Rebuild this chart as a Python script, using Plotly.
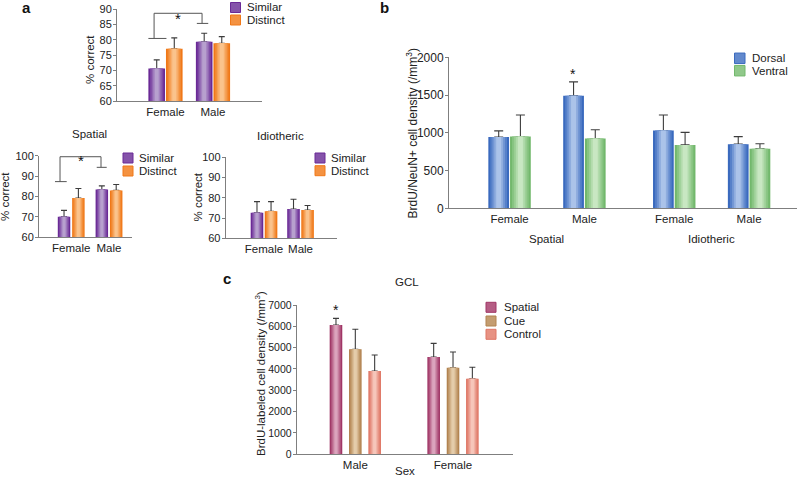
import plotly.graph_objects as go

W, H = 798, 479
FONT = "Liberation Sans, Arial, Helvetica, sans-serif"
TXT = "#222222"
AXC = "#7f7f7f"
ERRC = "#3c3c3c"

# ---------------- data ----------------
sex_a = ["Female", "Male"]
groups_a = ["Similar", "Distinct"]

a_all_similar = [70.6, 79.3]
a_all_similar_top = [73.4, 82.1]
a_all_distinct = [77.0, 78.8]
a_all_distinct_top = [80.6, 81.0]

a_spatial_similar = [70.1, 83.4]
a_spatial_similar_top = [73.2, 85.2]
a_spatial_distinct = [79.3, 83.0]
a_spatial_distinct_top = [83.9, 85.9]

a_idio_similar = [72.6, 74.5]
a_idio_similar_top = [78.1, 79.3]
a_idio_distinct = [73.3, 74.0]
a_idio_distinct_top = [78.1, 76.2]

b_tasks = ["Spatial", "Idiotheric"]
b_sex = ["Female", "Male", "Female", "Male"]
b_regions = ["Dorsal", "Ventral"]
b_dorsal = [945, 1490, 1030, 850]
b_dorsal_top = [1025, 1675, 1235, 950]
b_ventral = [950, 925, 840, 790]
b_ventral_top = [1235, 1040, 1005, 855]

c_sex = ["Male", "Female"]
c_groups = ["Spatial", "Cue", "Control"]
c_spatial = [6060, 4560]
c_spatial_top = [6375, 5200]
c_cue = [4920, 4060]
c_cue_top = [5860, 4795]
c_control = [3905, 3545]
c_control_top = [4655, 4080]

# ---------------- styles ----------------
# (edge colour, centre highlight colour)
PAL = {
    "Similar": ("#6A2A96", "#B7A0CE"),
    "Distinct": ("#F07818", "#FAC38C"),
    "Dorsal": ("#3A6ABE", "#ABC3E9"),
    "Ventral": ("#72B86C", "#C8E7C2"),
    "Spatial": ("#A03766", "#DBA4BD"),
    "Cue": ("#B28350", "#E4CCAA"),
    "Control": ("#DF7665", "#F6C6BA"),
}


def blend(c1, c2, t):
    a = [int(c1[i:i + 2], 16) for i in (1, 3, 5)]
    b = [int(c2[i:i + 2], 16) for i in (1, 3, 5)]
    return "#" + "".join(f"{round(x + (y - x) * t):02x}" for x, y in zip(a, b))


def fx(px):
    return px / W


def fy(py):
    return 1 - py / H


fig = go.Figure()

# panel geometry (pixels)
panels = [
    dict(id="", xdom=(117, 262), ydom=(9, 101), xr=(-1.021, 2.032), yr=(60, 90), dtick=5, yfs=11),
    dict(id="2", xdom=(39, 132), ydom=(155.7, 237.3), xr=(-0.852, 1.608), yr=(60, 100), dtick=10, yfs=11),
    dict(id="3", xdom=(225.7, 336.7), ydom=(157.3, 238.3), xr=(-1.049, 1.99), yr=(60, 100), dtick=10, yfs=11),
    dict(id="4", xdom=(449, 797), ydom=(57.3, 208.3), xr=(-0.809, 3.84), yr=(0, 2000), dtick=500, yfs=12),
    dict(id="5", xdom=(296.7, 513.3), ydom=(305, 454.3), xr=(-0.6, 1.617), yr=(0, 7000), dtick=1000, yfs=10.5),
]

pos_a = list(range(len(sex_a)))
pos_b = [i + 0.2 * (i >= 2) for i in range(len(b_sex))]
pos_c = list(range(len(c_sex)))

LAYERS = [1.0, 0.8, 0.6, 0.42, 0.24]


def add_bars(pid, pos, series, tops, names, width, gap, cap):
    k = len(series)
    total = k * width + (k - 1) * gap
    for j, (vals, tp, name) in enumerate(zip(series, tops, names)):
        off = -total / 2 + j * (width + gap)
        edge, light = PAL[name]
        for li, frac in enumerate(LAYERS):
            w = width * frac
            o = off + (width - w) / 2
            col = blend(edge, light, li / (len(LAYERS) - 1))
            kw = {}
            if li == 0:
                kw["error_y"] = dict(type="data", symmetric=False,
                                     array=[t - v for t, v in zip(tp, vals)],
                                     arrayminus=[0] * len(vals),
                                     color=ERRC, thickness=1.1, width=cap)
            fig.add_trace(go.Bar(
                x=pos, y=vals, width=w, offset=o, name=name,
                marker=dict(color=col, line=dict(width=0)),
                xaxis="x" + pid, yaxis="y" + pid, showlegend=False,
                hoverinfo="skip" if li else "x+y+name", **kw))


add_bars("", pos_a, [a_all_similar, a_all_distinct], [a_all_similar_top, a_all_distinct_top],
         groups_a, 0.35, 0.02, 3)
add_bars("2", pos_a, [a_spatial_similar, a_spatial_distinct],
         [a_spatial_similar_top, a_spatial_distinct_top], groups_a, 0.33, 0.05, 3)
add_bars("3", pos_a, [a_idio_similar, a_idio_distinct],
         [a_idio_similar_top, a_idio_distinct_top], groups_a, 0.345, 0.04, 3)
add_bars("4", pos_b, [b_dorsal, b_ventral], [b_dorsal_top, b_ventral_top],
         b_regions, 0.277, 0.013, 4.5)
add_bars("5", pos_c, [c_spatial, c_cue, c_control], [c_spatial_top, c_cue_top, c_control_top],
         c_groups, 0.129, 0.069, 3)

layout = dict(
    width=W, height=H, margin=dict(l=0, r=0, t=0, b=0, autoexpand=False),
    paper_bgcolor="white", plot_bgcolor="white",
    barmode="overlay", showlegend=False,
    font=dict(family=FONT, size=11.5, color=TXT),
)

ticktexts = [sex_a, sex_a, sex_a, b_sex, c_sex]
tickposs = [pos_a, pos_a, pos_a, pos_b, pos_c]
for p, tt, tv in zip(panels, ticktexts, tickposs):
    xn = "xaxis" + p["id"]
    yn = "yaxis" + p["id"]
    layout[xn] = dict(
        domain=[fx(p["xdom"][0]), fx(p["xdom"][1])], range=list(p["xr"]),
        anchor="y" + p["id"], showline=True, linecolor=AXC, linewidth=1,
        ticks="", tickvals=tv, ticktext=tt, showgrid=False, zeroline=False,
        automargin=False, fixedrange=True, tickfont=dict(size=11.5, color=TXT))
    layout[yn] = dict(
        domain=[fy(p["ydom"][1]), fy(p["ydom"][0])], range=list(p["yr"]),
        anchor="x" + p["id"], showline=True, linecolor=AXC, linewidth=1,
        ticks="outside", ticklen=3, tickcolor=AXC, dtick=p["dtick"],
        showgrid=False, zeroline=False, automargin=False, fixedrange=True,
        ticklabelstandoff=-1, tickfont=dict(size=p["yfs"], color=TXT))

fig.update_layout(**layout)

# ---------------- brackets & stars ----------------
def bracket(pid, lx, rx, ltick, rtick, yl, yr, yt):
    path = (f"M {ltick[0]},{yl} H {ltick[1]} M {lx},{yl} V {yt} H {rx} V {yr} "
            f"M {rtick[0]},{yr} H {rtick[1]}")
    fig.add_shape(type="path", path=path, xref="x" + pid, yref="y" + pid,
                  line=dict(color="#555555", width=1))
    return (lx + rx) / 2


mid_a = bracket("", -0.24, 0.77, (-0.36, 0.02), (0.66, 0.90), 80.4, 85.3, 88.6)
mid_s = bracket("2", -0.296, 0.788, (-0.429, -0.119), (0.675, 0.939), 87.3, 94.3, 99.5)

anns = []


def star(pid, x, y, size=15, paper_y=False):
    anns.append(dict(text="*", x=x, y=fy(y) if paper_y else y, xref="x" + pid,
                     yref="paper" if paper_y else "y" + pid, showarrow=False,
                     font=dict(size=size, color="#111"), yshift=-3))


star("", mid_a, 4.5, paper_y=True)
star("2", mid_s, 146.7, paper_y=True)
star("4", pos_b[1] - 0.146, 1818, 14)
star("5", pos_c[0] - 0.198, 6905, 14)


def text(t, px, py, size=11.5, bold=False, angle=0, xanchor="center"):
    anns.append(dict(text=f"<b>{t}</b>" if bold else t, x=fx(px), y=fy(py),
                     xref="paper", yref="paper", showarrow=False, textangle=angle,
                     xanchor=xanchor, yanchor="middle",
                     font=dict(size=size, color="#111" if bold else TXT)))


# panel letters
text("a", 26, 8, 15, bold=True)
text("b", 384, 8, 15, bold=True)
text("c", 227, 278, 15, bold=True)

# panel titles
text("Spatial", 89, 134)
text("Idiotheric", 280, 136)
text("GCL", 407, 282)

# y-axis titles
text("% correct", 90, 60, angle=-90)
text("% correct", 5, 197, angle=-90)
text("% correct", 197.5, 197, angle=-90)
text("BrdU/NeuN+ cell density (/mm<sup>3</sup>)", 411.5, 134, angle=-90, size=12)
text("BrdU-labeled cell density (/mm<sup>3</sup>)", 260, 374, angle=-90)

# group labels under panel b and c
for task, i in zip(b_tasks, [0, 2]):
    mid_px = 449 + (((pos_b[i] + pos_b[i + 1]) / 2) - (-0.809)) / (3.84 + 0.809) * (797 - 449)
    text(task, mid_px, 239)
text("Sex", 405, 471)

# legends
def legend(names, sw_x, text_x, rows, size=10):
    for name, py in zip(names, rows):
        edge, light = PAL[name]
        fig.add_shape(type="rect", xref="paper", yref="paper",
                      x0=fx(sw_x), x1=fx(sw_x + size), y0=fy(py + size / 2), y1=fy(py - size / 2),
                      fillcolor=blend(edge, light, 0.35), line=dict(color=edge, width=1))
        text(name, text_x, py, xanchor="left")


legend(groups_a, 230.5, 245, [7.5, 20])
legend(groups_a, 123, 137, [158, 171])
legend(groups_a, 315, 329, [158, 170.7])
legend(b_regions, 734.5, 750, [58.3, 70.7], size=10.5)
legend(c_groups, 486, 502, [307.3, 321, 334.3])

fig.update_layout(annotations=anns)
fig.write_html(
    "out.html",
    config={"displayModeBar": False},
    post_script="document.body.style.margin='0px';document.body.style.padding='0px';"
                "document.body.style.overflow='hidden';",
)
